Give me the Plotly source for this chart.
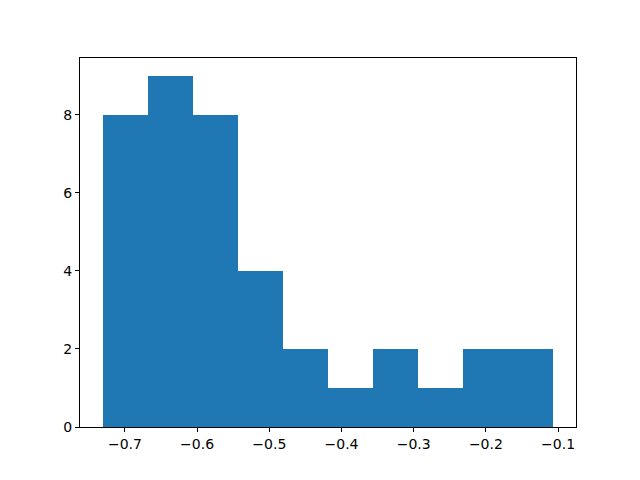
import plotly.graph_objects as go

bin_edges = [-0.731, -0.66854, -0.60608, -0.54362, -0.48116, -0.4187, -0.35624, -0.29378, -0.23132, -0.16886, -0.1064]
counts = [8, 9, 8, 4, 2, 1, 2, 1, 2, 2]
x_ticks = [-0.7, -0.6, -0.5, -0.4, -0.3, -0.2, -0.1]
x_tick_labels = ["\u22120.7", "\u22120.6", "\u22120.5", "\u22120.4", "\u22120.3", "\u22120.2", "\u22120.1"]
y_ticks = [0, 2, 4, 6, 8]

centers = [(bin_edges[i] + bin_edges[i + 1]) / 2 for i in range(len(counts))]
widths = [bin_edges[i + 1] - bin_edges[i] for i in range(len(counts))]

span = bin_edges[-1] - bin_edges[0]
xmin = bin_edges[0] - 0.05 * span
xmax = bin_edges[-1] + 0.05 * span
ymax = max(counts) * 1.05

fig = go.Figure(go.Bar(x=centers, y=counts, width=widths,
                       marker=dict(color="#1f77b4", line=dict(width=0))))

axis_common = dict(showgrid=False, zeroline=False, showline=True, linecolor="black",
                   linewidth=1, mirror=True, ticks="outside", ticklen=4, tickwidth=1,
                   tickcolor="black", tickfont=dict(family="DejaVu Sans", size=14, color="black"))

fig.update_layout(
    width=640, height=480,
    margin=dict(l=72, r=72, t=50, b=61),
    plot_bgcolor="white", paper_bgcolor="white",
    showlegend=False, bargap=0,
    xaxis=dict(range=[xmin, xmax], tickvals=x_ticks, ticktext=x_tick_labels, **axis_common),
    yaxis=dict(range=[0, ymax], tickvals=y_ticks, **axis_common),
)

fig.write_html("out.html")
